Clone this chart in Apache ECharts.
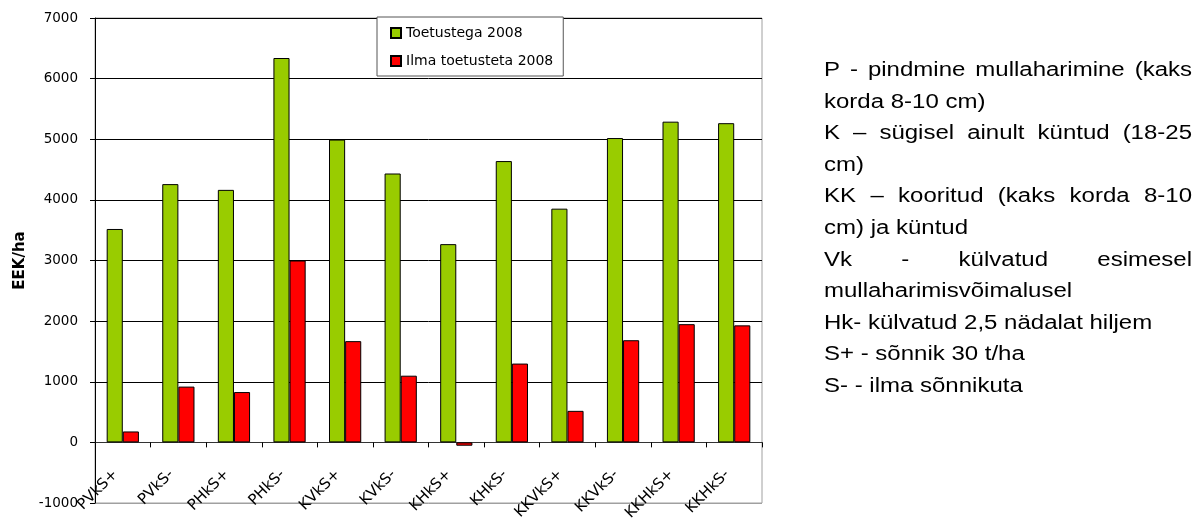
<!DOCTYPE html>
<html>
<head>
<meta charset="utf-8">
<script src="https://cdn.jsdelivr.net/npm/echarts@6/dist/echarts.min.js"></script>
<style>
  html, body { margin: 0; padding: 0; background: #fff; }
  #chart { width: 1197px; height: 519px; }
</style>
</head>
<body>
<div id="chart"></div>
<script>
// Tillage / sowing variants
const categories = ['PVkS+', 'PVkS-', 'PHkS+', 'PHkS-', 'KVkS+', 'KVkS-', 'KHkS+', 'KHkS-', 'KKVkS+', 'KKVkS-', 'KKHkS+', 'KKHkS-'];
// Net income, EEK/ha
const withSubsidies = [3520, 4260, 4165, 6340, 4995, 4435, 3270, 4640, 3855, 5020, 5290, 5265];
const withoutSubsidies = [180, 920, 830, 3000, 1670, 1100, -55, 1300, 520, 1685, 1950, 1930];
const seriesNames = ['Toetustega 2008', 'Ilma toetusteta 2008'];
const yTicks = { min: -1000, max: 7000, interval: 1000 };

// Abbreviation notes beside the chart: [text, justified]
const noteLines = [
  ['P - pindmine mullaharimine (kaks', true],
  ['korda 8-10 cm)', false],
  ['K \u2013 sügisel ainult küntud (18-25', true],
  ['cm)', false],
  ['KK \u2013 kooritud (kaks korda 8-10', true],
  ['cm) ja küntud', false],
  ['Vk - külvatud esimesel', true],
  ['mullaharimisvõimalusel', false],
  ['Hk- külvatud 2,5 nädalat hiljem', false],
  ['S+ - sõnnik 30 t/ha', false],
  ['S- - ilma sõnnikuta', false]
];

const FONT = '"DejaVu Sans", "Liberation Sans", Arial, sans-serif';
const NOTE_FONT = '"Liberation Sans", Arial, sans-serif';

// Lay out the note block (slightly widened glyphs), spreading words of justified lines across the column
function buildNotes() {
  const left = 824, right = 1192, top = 70.5, step = 31.6, size = 20, sx = 1.2;
  const font = size + 'px ' + NOTE_FONT;
  const ctx = document.createElement('canvas').getContext('2d');
  ctx.font = font;
  const out = [];
  function word(text, x, y) {
    return {
      type: 'text', x: x, y: y, scaleX: sx, scaleY: 1,
      style: { text: text, font: font, fill: '#000', textAlign: 'left', textVerticalAlign: 'middle' }
    };
  }
  noteLines.forEach(function (entry, i) {
    const text = entry[0], justify = entry[1];
    const y = top + i * step;
    if (!justify) {
      out.push(word(text, left, y));
      return;
    }
    const words = text.split(' ');
    const widths = words.map(function (w) { return ctx.measureText(w).width * sx; });
    const total = widths.reduce(function (a, b) { return a + b; }, 0);
    const gap = (right - left - total) / (words.length - 1);
    let x = left;
    words.forEach(function (w, k) {
      out.push(word(w, x, y));
      x += widths[k] + gap;
    });
  });
  return out;
}

const chart = echarts.init(document.getElementById('chart'), null, { renderer: 'canvas' });
chart.setOption({
  animation: false,
  backgroundColor: '#fff',
  grid: {
    left: 95, right: 435, top: 18, bottom: 16,
    containLabel: false, outerBoundsMode: 'none',
    show: true, borderColor: '#a0a0a0', borderWidth: 1, backgroundColor: 'transparent'
  },
  legend: {
    orient: 'vertical',
    left: 377, top: 17,
    padding: [9, 10, 8, 13],
    itemGap: 14,
    itemWidth: 10, itemHeight: 10,
    icon: 'rect',
    backgroundColor: '#fff',
    borderColor: '#555', borderWidth: 1, borderRadius: 0,
    textStyle: { fontFamily: FONT, fontSize: 14, color: '#000' },
    data: seriesNames
  },
  xAxis: {
    type: 'category',
    data: categories,
    axisLine: { onZero: true, lineStyle: { color: '#333', width: 1 } },
    axisTick: { show: true, length: 5, lineStyle: { color: '#000' } },
    axisLabel: {
      interval: 0, rotate: 45, margin: -38,
      padding: [0, 10, 0, 0],
      fontFamily: FONT, fontSize: 15, color: '#000'
    },
    splitLine: { show: false }
  },
  yAxis: {
    type: 'value',
    min: yTicks.min, max: yTicks.max, interval: yTicks.interval,
    name: 'EEK/ha', nameLocation: 'middle', nameRotate: 90, nameGap: 66,
    nameTextStyle: { fontFamily: FONT, fontSize: 15, fontWeight: 'bold', color: '#000' },
    axisLine: { show: true, lineStyle: { color: '#000', width: 1 } },
    axisTick: { show: true, length: 5, lineStyle: { color: '#000' } },
    axisLabel: {
      margin: 17, fontFamily: FONT, fontSize: 13.5, color: '#000',
      formatter: function (v) { return String(v); }
    },
    splitLine: { show: true, lineStyle: { color: ['#a0a0a0', '#000', '#000', '#000', '#000', '#000', '#000', '#000', '#000'], width: 1 } }
  },
  series: [
    {
      name: seriesNames[0], type: 'bar', data: withSubsidies,
      barGap: 0, barCategoryGap: '42%',
      itemStyle: { color: '#99cc00', borderColor: '#000', borderWidth: 1 }
    },
    {
      name: seriesNames[1], type: 'bar', data: withoutSubsidies,
      barGap: 0, barCategoryGap: '42%',
      itemStyle: { color: '#ff0000', borderColor: '#000', borderWidth: 1 }
    }
  ],
  graphic: buildNotes()
});
</script>
</body>
</html>
